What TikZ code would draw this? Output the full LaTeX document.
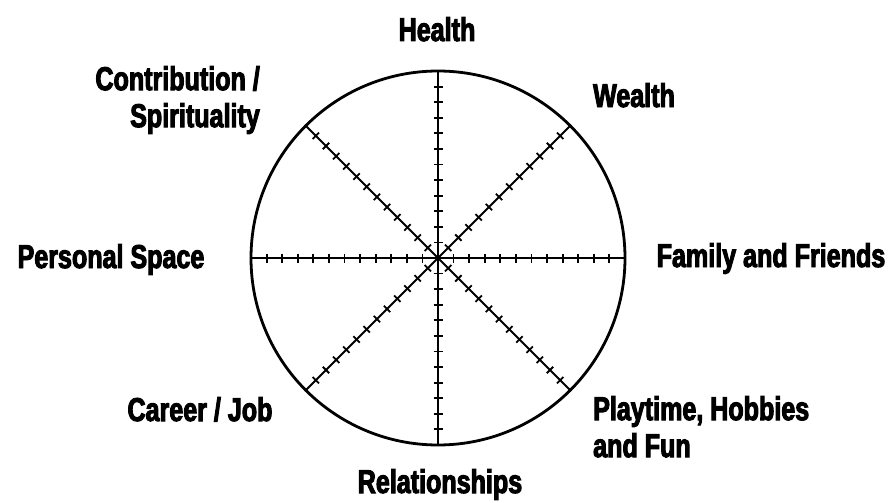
\documentclass[tikz,border=0pt]{standalone}
\usepackage{fontspec}
\usepackage{tikz}
\newfontfamily\wheelfont[FakeStretch=0.76,FakeBold=3]{Liberation Sans Bold}

\begin{document}
\begin{tikzpicture}[x=1pt, y=-1pt,
    lbl/.style={font=\wheelfont\fontsize{33}{37}\selectfont, inner sep=0pt},
    tick/.style={line width=1.8pt}]

    \useasboundingbox (0,0) rectangle (889,503);

    \node [circle, draw, line width=2.8pt, minimum size=374pt, inner sep=0pt] (w) at (438, 258) {};

    \foreach \a in {0,45,...,315}
      \draw [line width=1.9pt] (w.center) -- (w.\a);

    \foreach \a in {0,90,180,270}
      \foreach \k in {1,...,11}
        \draw [tick, shift={(w.center)}, rotate=\a] ({\k*15.58pt}, -4.5pt) -- ({\k*15.58pt}, 4.5pt);
    \foreach \a in {45,135,225,315}
      \foreach \k in {1,...,12}
        \draw [tick, shift={(w.center)}, rotate=\a] ({\k*14.4pt}, -4.5pt) -- ({\k*14.4pt}, 4.5pt);

    \node [lbl, anchor=base] (h) at (437, 41) {Health};
    \node [lbl, anchor=base] (we) at (634, 107) {Wealth};
    \node [lbl, anchor=base] (f) at (771, 267) {Family and Friends};
    \node [lbl, anchor=north west, align=left] (p) at (593, 396) {Playtime, Hobbies\\and Fun};
    \node [lbl, anchor=base] (r) at (440, 493) {Relationships};
    \node [lbl, anchor=base] (cj) at (200, 421) {Career / Job};
    \node [lbl, anchor=base] (ps) at (111, 268) {Personal Space};
    \node [lbl, anchor=north east, align=right] (cs) at (260, 66) {Contribution /\\Spirituality};

\end{tikzpicture}
\end{document}
